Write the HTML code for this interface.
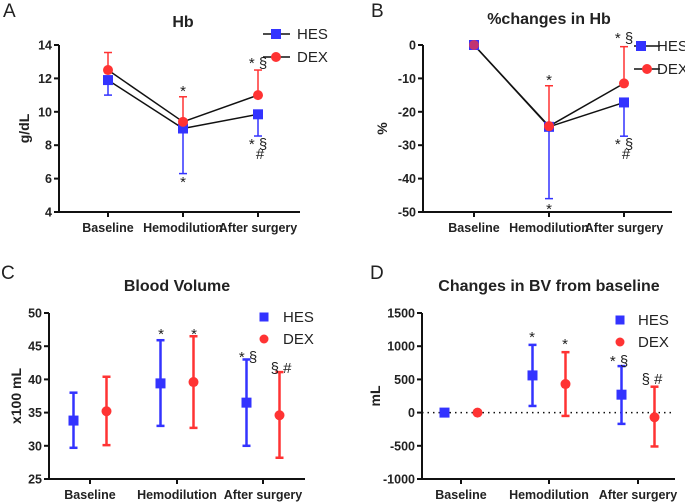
<!DOCTYPE html>
<html><head><meta charset="utf-8"><style>
body{margin:0;background:#fff}
svg{display:block;font-family:"Liberation Sans",Arial,sans-serif}
.tk{font-size:12.5px;font-weight:bold;fill:#222}
.tt{font-size:16px;font-weight:bold;fill:#222}
.pl{font-size:19px;fill:#222}
.lg{font-size:15px;fill:#222}
.an{font-size:15px;fill:#222}
</style></head><body>
<svg id="c" width="685" height="502" viewBox="0 0 685 502"></svg>
<script>
const categories = ["Baseline","Hemodilution","After surgery"];
// Panel A (Hb, g/dL)
const aHes = [11.9, 9.0, 9.85];
const aHesLow = [11.0, 6.3, 8.55];
const aDex = [12.5, 9.4, 11.0];
const aDexHigh = [13.55, 10.9, 12.5];
const aTicks = [4,6,8,10,12,14];
// Panel B (% change)
const bHes = [0, -24.5, -17.2];
const bHesLow = [0, -46, -27.3];
const bDex = [0, -24.3, -11.5];
const bDexHigh = [0, -12.2, -0.5];
const bTicks = [-50,-40,-30,-20,-10,0];
// Panel C (Blood volume x100 mL)
const cHes = [33.8, 39.4, 36.5];
const cHesLow = [29.7, 33.0, 30.0];
const cHesHigh = [38.0, 45.9, 43.0];
const cDex = [35.2, 39.6, 34.6];
const cDexLow = [30.1, 32.7, 28.2];
const cDexHigh = [40.4, 46.5, 41.1];
const cTicks = [25,30,35,40,45,50];
// Panel D (mL change)
const dHes = [0, 560, 270];
const dHesLow = [0, 100, -170];
const dHesHigh = [0, 1020, 700];
const dDex = [0, 430, -70];
const dDexLow = [0, -50, -510];
const dDexHigh = [0, 910, 390];
const dTicks = [-1000,-500,0,500,1000,1500];

const S = document.getElementById('c');
const NS = 'http://www.w3.org/2000/svg';
const BLUE = '#3333ff', RED = '#ff3333';
function mk(tag, at, txt){
  const e = document.createElementNS(NS, tag);
  for (const k in at) e.setAttribute(k, at[k]);
  if (txt !== undefined) e.textContent = txt;
  S.appendChild(e);
  return e;
}
function line(x1,y1,x2,y2,col,w,name){
  const e = mk('line',{x1,y1,x2,y2,stroke:col,'stroke-width':w});
  
  
  return e;
}
function text(x,y,t,cls,anchor,name,extra){
  const e = mk('text',Object.assign({x,y,class:cls,'text-anchor':anchor},extra||{}),t);
  
  
  return e;
}
function marker(type,x,y,col,name,r,op){
  let e;
  r = r||5;
  if (type==='sq') e = mk('rect',{x:x-r,y:y-r,width:2*r,height:2*r,fill:col});
  else e = mk('circle',{cx:x,cy:y,r:r,fill:col});
  if (op) e.setAttribute('fill-opacity', op);
  
  
  return e;
}
function errbar(x,y1,y2,col,w,name){
  line(x,y1,x,y2,col,w,name);
  line(x-4,y1,x+4,y1,col,w,name+'-cap');
  line(x-4,y2,x+4,y2,col,w,name+'-cap');
}
function axes(p){
  const yS = v => p.y0 + (v - p.vmin)/(p.vmax - p.vmin)*(p.y1 - p.y0);
  line(p.ax, p.y1, p.ax, p.y0+1, '#111', 2, p.id+'-y-axis');
  line(p.ax-1, p.y0, p.axEnd, p.y0, '#111', 2, p.id+'-x-axis');
  p.ticks.forEach(t=>{
    line(p.ax-5, yS(t), p.ax, yS(t), '#111', 2, p.id+'-y-tick');
    text(p.ax-7, yS(t)+4.5, String(t), 'tk', 'end', p.id+'-y-tick-label');
  });
  categories.forEach((c,i)=>{
    line(p.catX[i], p.y0, p.catX[i], p.y0+5, '#111', 2, p.id+'-x-tick');
    text(p.catX[i], p.y0+20, c, 'tk', 'middle', p.id+'-x-tick-label');
  });
  text(p.titleX, p.titleY, p.title, 'tt', 'middle', p.id+'-chart-title');
  text(p.letterX, p.letterY, p.letter, 'pl', 'start', p.id+'-panel-letter');
  text(p.ylX, (p.y0+p.y1)/2, p.ylabel, 'tk', 'middle', p.id+'-y-axis-title',
    {transform:`rotate(-90 ${p.ylX} ${(p.y0+p.y1)/2})`, style:'font-size:14px'});
  return yS;
}

// Panel A
(function(){
  const p = {id:'a', ax:59, axEnd:300, y0:212, y1:45, vmin:4, vmax:14, ticks:aTicks,
    catX:[108,183,258], title:'Hb', titleX:183, titleY:27, letter:'A', letterX:3, letterY:17,
    ylabel:'g/dL', ylX:29};
  const y = axes(p);
  for (let i=0;i<2;i++){
    line(p.catX[i],y(aHes[i]),p.catX[i+1],y(aHes[i+1]),'#111',1.5,'hes-line');
    line(p.catX[i],y(aDex[i]),p.catX[i+1],y(aDex[i+1]),'#111',1.5,'dex-line');
  }
  categories.forEach((c,i)=>{
    errbar(p.catX[i],y(aHes[i]),y(aHesLow[i]),BLUE,1.5,'hes-error-bar');
    errbar(p.catX[i],y(aDex[i]),y(aDexHigh[i]),RED,1.5,'dex-error-bar');
    marker('sq',p.catX[i],y(aHes[i]),BLUE,'hes-point');
    marker('ci',p.catX[i],y(aDex[i]),RED,'dex-point');
  });
  text(183,96,'*','an','middle','sig-mark');
  text(183,187,'*','an','middle','sig-mark');
  text(258,68,'* §','an','middle','sig-mark');
  text(258,149,'* §','an','middle','sig-mark');
  text(260,159,'#','an','middle','sig-mark');
  line(263,34,290,34,'#111',1.5,'legend-hes-line'); marker('sq',276,34,BLUE,'legend-hes-marker');
  text(297,39,'HES','lg','start','legend-hes-label');
  line(263,57,290,57,'#111',1.5,'legend-dex-line'); marker('ci',276,57,RED,'legend-dex-marker');
  text(297,62,'DEX','lg','start','legend-dex-label');
})();

// Panel B
(function(){
  const p = {id:'b', ax:423, axEnd:672, y0:212, y1:45, vmin:-50, vmax:0, ticks:bTicks,
    catX:[474,549,624], title:'%changes in Hb', titleX:549, titleY:24, letter:'B', letterX:371, letterY:17,
    ylabel:'%', ylX:387};
  const y = axes(p);
  for (let i=0;i<2;i++){
    line(p.catX[i],y(bHes[i]),p.catX[i+1],y(bHes[i+1]),'#111',1.5,'hes-line');
    line(p.catX[i],y(bDex[i]),p.catX[i+1],y(bDex[i+1]),'#111',1.5,'dex-line');
  }
  categories.forEach((c,i)=>{
    if (i>0){
      errbar(p.catX[i],y(bHes[i]),y(bHesLow[i]),BLUE,1.5,'hes-error-bar');
      errbar(p.catX[i],y(bDex[i]),y(bDexHigh[i]),RED,1.5,'dex-error-bar');
    }
    marker('sq',p.catX[i],y(bHes[i]),BLUE,'hes-point');
    marker('ci',p.catX[i],y(bDex[i]),RED,'dex-point',5,i===0?0.7:1);
  });
  text(549,85,'*','an','middle','sig-mark');
  text(549,214,'*','an','middle','sig-mark');
  text(624,43,'* §','an','middle','sig-mark');
  text(624,149,'* §','an','middle','sig-mark');
  text(626,159,'#','an','middle','sig-mark');
  line(634,46,660,46,'#111',1.5,'legend-hes-line'); marker('sq',641,46,BLUE,'legend-hes-marker');
  text(657,51,'HES','lg','start','legend-hes-label');
  line(634,69,660,69,'#111',1.5,'legend-dex-line'); marker('ci',647,69,RED,'legend-dex-marker');
  text(657,74,'DEX','lg','start','legend-dex-label');
})();

// Panel C
(function(){
  const p = {id:'c', ax:49, axEnd:305, y0:479, y1:313, vmin:25, vmax:50, ticks:cTicks,
    catX:[90,177,263], title:'Blood Volume', titleX:177, titleY:291, letter:'C', letterX:1, letterY:279,
    ylabel:'x100 mL', ylX:21};
  const y = axes(p);
  const off = 16.5;
  categories.forEach((c,i)=>{
    const xh = p.catX[i]-off, xd = p.catX[i]+off;
    errbar(xh,y(cHesLow[i]),y(cHesHigh[i]),BLUE,2.5,'hes-error-bar');
    errbar(xd,y(cDexLow[i]),y(cDexHigh[i]),RED,2.5,'dex-error-bar');
    marker('sq',xh,y(cHes[i]),BLUE,'hes-point');
    marker('ci',xd,y(cDex[i]),RED,'dex-point');
  });
  text(161,339,'*','an','middle','sig-mark');
  text(194,339,'*','an','middle','sig-mark');
  text(248,362,'* §','an','middle','sig-mark');
  text(281,373,'§ #','an','middle','sig-mark');
  marker('sq',264,317,BLUE,'legend-hes-marker',4.5);
  text(283,322,'HES','lg','start','legend-hes-label');
  marker('ci',264,339,RED,'legend-dex-marker',4.5);
  text(283,344,'DEX','lg','start','legend-dex-label');
})();

// Panel D
(function(){
  const p = {id:'d', ax:422, axEnd:675, y0:479, y1:313, vmin:-1000, vmax:1500, ticks:dTicks,
    catX:[461,549,638], title:'Changes in BV from baseline', titleX:549, titleY:291, letter:'D', letterX:370, letterY:279,
    ylabel:'mL', ylX:380};
  const y = axes(p);
  const z = mk('line',{x1:p.ax,y1:y(0),x2:p.axEnd,y2:y(0),stroke:'#111','stroke-width':1.5,'stroke-dasharray':'1.5,4'});
  
  
  const off = 16.5;
  categories.forEach((c,i)=>{
    const xh = p.catX[i]-off, xd = p.catX[i]+off;
    if (i>0){
      errbar(xh,y(dHesLow[i]),y(dHesHigh[i]),BLUE,2.5,'hes-error-bar');
      errbar(xd,y(dDexLow[i]),y(dDexHigh[i]),RED,2.5,'dex-error-bar');
    }
    marker('sq',xh,y(dHes[i]),BLUE,'hes-point');
    marker('ci',xd,y(dDex[i]),RED,'dex-point');
  });
  text(532,342,'*','an','middle','sig-mark');
  text(565,349,'*','an','middle','sig-mark');
  text(619,366,'* §','an','middle','sig-mark');
  text(652,384,'§ #','an','middle','sig-mark');
  marker('sq',620,320,BLUE,'legend-hes-marker',4.5);
  text(638,325,'HES','lg','start','legend-hes-label');
  marker('ci',620,342,RED,'legend-dex-marker',4.5);
  text(638,347,'DEX','lg','start','legend-dex-label');
})();
</script>
</body></html>
